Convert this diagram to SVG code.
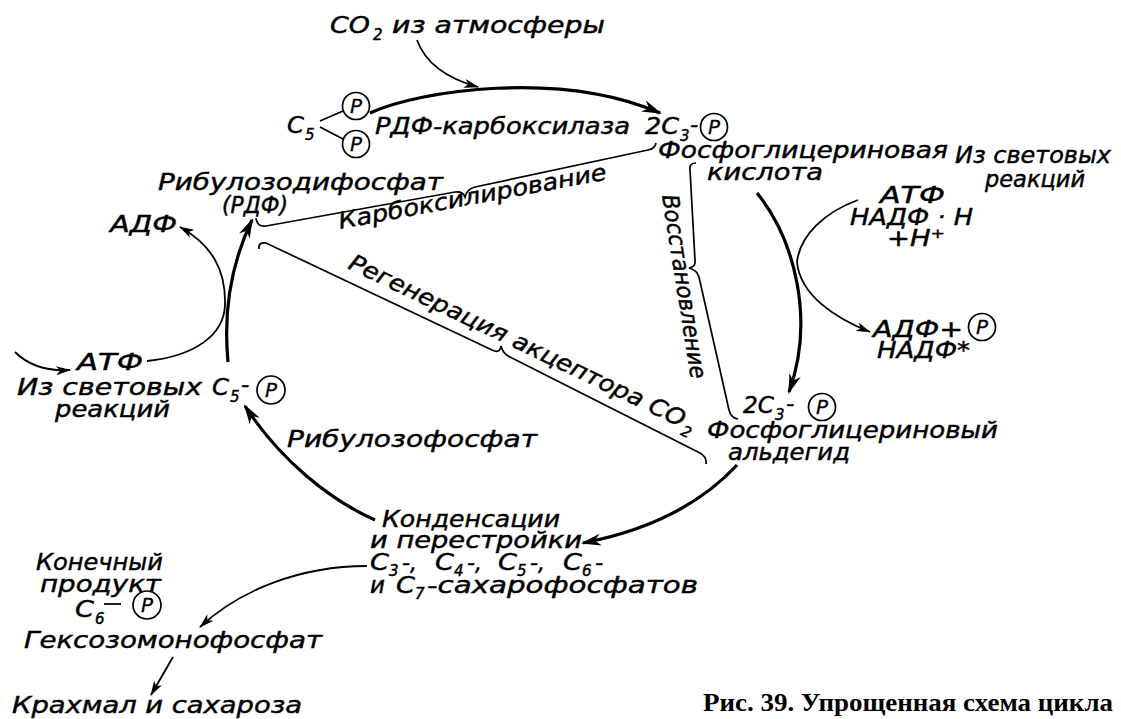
<svg xmlns="http://www.w3.org/2000/svg" width="1121" height="719" viewBox="0 0 1121 719">
<defs>
<style>
.t{font-family:"DejaVu Sans","Liberation Sans",sans-serif;font-style:italic;font-size:23px;fill:#000;stroke:#000;stroke-width:0.45}
.s{font-size:15px}
.p{font-family:"DejaVu Sans","Liberation Sans",sans-serif;font-style:italic;font-size:20px;text-anchor:middle;fill:#000;stroke:#000;stroke-width:0.3}
.pc{fill:none;stroke:#000;stroke-width:1.7}
.main{fill:none;stroke:#000;stroke-width:3.2}
.thin{fill:none;stroke:#000;stroke-width:1.8}
.brace{fill:none;stroke:#000;stroke-width:1.7}
.cap{font-family:"Liberation Serif","DejaVu Serif",serif;font-weight:bold;font-size:26px;fill:#000}
</style>
<marker id="ah" markerWidth="20" markerHeight="12" refX="18" refY="6" orient="auto" markerUnits="userSpaceOnUse"><path d="M0,0 L20,6 L0,12 L6,6 Z" fill="#000"/></marker>
<marker id="ahs" markerWidth="15" markerHeight="9" refX="14" refY="4.5" orient="auto" markerUnits="userSpaceOnUse"><path d="M0,0 L15,4.5 L0,9 L4,4.5 Z" fill="#000"/></marker>
</defs>
<rect width="1121" height="719" fill="#fff"/>

<g id="connectors">
<path class="main" d="M370,113 C420,90 560,70 660,113" marker-end="url(#ah)"/>
<path class="thin" d="M417,40 C425,62 445,78 478,87" marker-end="url(#ahs)"/>
<path class="main" d="M757,193 C795,240 815,320 789,392" marker-end="url(#ah)"/>
<path class="thin" d="M858,200 C825,212 800,235 797,262 C800,295 835,318 870,332" marker-end="url(#ahs)"/>
<path class="main" d="M737,465 C700,505 650,530 583,543" marker-end="url(#ah)"/>
<path class="main" d="M375,520 C330,500 280,460 245,406" marker-end="url(#ah)"/>
<path class="main" d="M228,362 C224,320 228,270 252,220" marker-end="url(#ah)"/>
<path class="thin" d="M147,361 C195,356 224,335 225,305 C226,270 212,245 180,227" marker-end="url(#ahs)"/>
<path class="thin" d="M15,352 Q35,372 70,370" marker-end="url(#ahs)"/>
<path class="thin" d="M367,566 C300,566 240,590 200,627" marker-end="url(#ahs)"/>
<path class="thin" d="M173,657 L151,695" marker-end="url(#ahs)"/>
<path class="thin" d="M320,121 L343,111 M320,127 L343,139"/>
<path class="brace" d="M256,218 Q257,227 266,226 L455,192 Q463,191 465,197 Q467,189 475,187 L648,150 Q655,149 656,143"/>
<path class="brace" d="M259,249 Q258,242 266,243 L492,350 Q500,354 501,346 Q503,354 510,357 L700,453 Q707,457 706,464"/>
<path class="brace" d="M696,163 Q689,163 690,170 L695,260 Q696,267 689,268 Q697,270 699,277 L729,410 Q731,418 738,419"/>
</g>

<g id="n-co2">
<text class="t" x="330" y="33" textLength="40" lengthAdjust="spacingAndGlyphs">CO</text>
<text class="t s" x="373" y="40">2</text>
<text class="t" x="392" y="33" textLength="213" lengthAdjust="spacingAndGlyphs">из атмосферы</text>
</g>

<g id="n-c5p2">
<text class="t" x="287" y="133" textLength="17" lengthAdjust="spacingAndGlyphs">C</text>
<text class="t s" x="305" y="140">5</text>
<circle class="pc" cx="356" cy="106" r="13.5"/>
<text class="p" x="356" y="113">P</text>
<circle class="pc" cx="356" cy="144" r="13.5"/>
<text class="p" x="356" y="151">P</text>
</g>

<g id="n-enzyme">
<text class="t" x="375" y="134" textLength="255" lengthAdjust="spacingAndGlyphs">РДФ-карбоксилаза</text>
</g>

<g id="n-pga">
<text class="t" x="645" y="134" textLength="34" lengthAdjust="spacingAndGlyphs">2C</text>
<text class="t s" x="680" y="141">3</text>
<text class="t" x="690" y="132">-</text>
<circle class="pc" cx="714" cy="127" r="13.5"/>
<text class="p" x="714" y="134">P</text>
<text class="t" x="658" y="158" textLength="290" lengthAdjust="spacingAndGlyphs">Фосфоглицериновая</text>
<text class="t" x="707" y="180" textLength="116" lengthAdjust="spacingAndGlyphs">кислота</text>
</g>

<g id="n-light-right">
<text class="t" x="955" y="163" textLength="156" lengthAdjust="spacingAndGlyphs">Из световых</text>
<text class="t" x="985" y="187" textLength="100" lengthAdjust="spacingAndGlyphs">реакций</text>
</g>

<g id="n-atp-nadph">
<text class="t" x="880" y="203" textLength="65" lengthAdjust="spacingAndGlyphs">АТФ</text>
<text class="t" x="850" y="225" textLength="123" lengthAdjust="spacingAndGlyphs">НАДФ · Н</text>
<text class="t" x="887" y="246" textLength="58" lengthAdjust="spacingAndGlyphs">+Н⁺</text>
</g>

<g id="n-adp-nadp">
<text class="t" x="873" y="337" textLength="90" lengthAdjust="spacingAndGlyphs">АДФ+</text>
<circle class="pc" cx="982" cy="327" r="13.5"/>
<text class="p" x="982" y="334">P</text>
<text class="t" x="877" y="358" textLength="93" lengthAdjust="spacingAndGlyphs">НАДФ*</text>
</g>

<g id="n-rdp">
<text class="t" x="158" y="190" textLength="285" lengthAdjust="spacingAndGlyphs">Рибулозодифосфат</text>
<text class="t" x="222" y="213" textLength="66" lengthAdjust="spacingAndGlyphs">(РДФ)</text>
</g>

<g id="n-adp-left">
<text class="t" x="110" y="232" textLength="67" lengthAdjust="spacingAndGlyphs">АДФ</text>
</g>

<g id="n-atp-left">
<text class="t" x="77" y="370" textLength="66" lengthAdjust="spacingAndGlyphs">АТФ</text>
<text class="t" x="17" y="395" textLength="185" lengthAdjust="spacingAndGlyphs">Из световых</text>
<text class="t" x="55" y="417" textLength="115" lengthAdjust="spacingAndGlyphs">реакций</text>
</g>

<g id="n-c5p">
<text class="t" x="212" y="395" textLength="17" lengthAdjust="spacingAndGlyphs">C</text>
<text class="t s" x="230" y="402">5</text>
<text class="t" x="241" y="392">-</text>
<circle class="pc" cx="271" cy="390" r="14"/>
<text class="p" x="271" y="397">P</text>
</g>

<g id="n-rp">
<text class="t" x="287" y="447" textLength="250" lengthAdjust="spacingAndGlyphs">Рибулозофосфат</text>
</g>

<g id="n-pgal">
<text class="t" x="743" y="413" textLength="31" lengthAdjust="spacingAndGlyphs">2C</text>
<text class="t s" x="775" y="420">3</text>
<text class="t" x="786" y="411">-</text>
<circle class="pc" cx="822" cy="407" r="13.5"/>
<text class="p" x="822" y="414">P</text>
<text class="t" x="707" y="438" textLength="291" lengthAdjust="spacingAndGlyphs">Фосфоглицериновый</text>
<text class="t" x="728" y="460" textLength="122" lengthAdjust="spacingAndGlyphs">альдегид</text>
</g>

<g id="n-cond">
<text class="t" x="382" y="527" textLength="178" lengthAdjust="spacingAndGlyphs">Конденсации</text>
<text class="t" x="370" y="548" textLength="212" lengthAdjust="spacingAndGlyphs">и перестройки</text>
<text class="t" x="370" y="570" textLength="19" lengthAdjust="spacingAndGlyphs">C</text>
<text class="t s" x="389" y="576">3</text>
<text class="t" x="402" y="570" textLength="15" lengthAdjust="spacingAndGlyphs">-,</text>
<text class="t" x="435" y="570" textLength="19" lengthAdjust="spacingAndGlyphs">C</text>
<text class="t s" x="454" y="576">4</text>
<text class="t" x="467" y="570" textLength="15" lengthAdjust="spacingAndGlyphs">-,</text>
<text class="t" x="498" y="570" textLength="19" lengthAdjust="spacingAndGlyphs">C</text>
<text class="t s" x="517" y="576">5</text>
<text class="t" x="530" y="570" textLength="15" lengthAdjust="spacingAndGlyphs">-,</text>
<text class="t" x="563" y="570" textLength="19" lengthAdjust="spacingAndGlyphs">C</text>
<text class="t s" x="582" y="576">6</text>
<text class="t" x="595" y="570">-</text>
<text class="t" x="370" y="593">и</text>
<text class="t" x="396" y="593" textLength="19" lengthAdjust="spacingAndGlyphs">C</text>
<text class="t s" x="415" y="599">7</text>
<text class="t" x="427" y="593" textLength="271" lengthAdjust="spacingAndGlyphs">-сахарофосфатов</text>
</g>

<g id="n-final">
<text class="t" x="36" y="570" textLength="127" lengthAdjust="spacingAndGlyphs">Конечный</text>
<text class="t" x="40" y="592" textLength="121" lengthAdjust="spacingAndGlyphs">продукт</text>
<text class="t" x="75" y="617" textLength="19" lengthAdjust="spacingAndGlyphs">C</text>
<text class="t s" x="95" y="624">6</text>
<line class="thin" x1="104" y1="604" x2="121" y2="604"/>
<circle class="pc" cx="147" cy="605" r="14"/>
<text class="p" x="147" y="612">P</text>
</g>

<g id="n-hexose">
<text class="t" x="24" y="648" textLength="298" lengthAdjust="spacingAndGlyphs">Гексозомонофосфат</text>
</g>

<g id="n-starch">
<text class="t" x="12" y="713" textLength="290" lengthAdjust="spacingAndGlyphs">Крахмал и сахароза</text>
</g>

<g id="stage-labels">
<text class="t" transform="translate(340,229) rotate(-10.5)" textLength="272" lengthAdjust="spacingAndGlyphs">Карбоксилирование</text>
<g transform="translate(347,268) rotate(25.5)">
<text class="t" x="0" y="0" textLength="370" lengthAdjust="spacingAndGlyphs">Регенерация акцептора CO</text>
<text class="t s" x="372" y="7">2</text>
</g>
<text class="t" transform="translate(662,196) rotate(81)" textLength="186" lengthAdjust="spacingAndGlyphs">Восстановление</text>
</g>

<g id="caption">
<text class="cap" x="703" y="711" textLength="410" lengthAdjust="spacingAndGlyphs">Рис. 39. Упрощенная схема цикла</text>
</g>
</svg>
